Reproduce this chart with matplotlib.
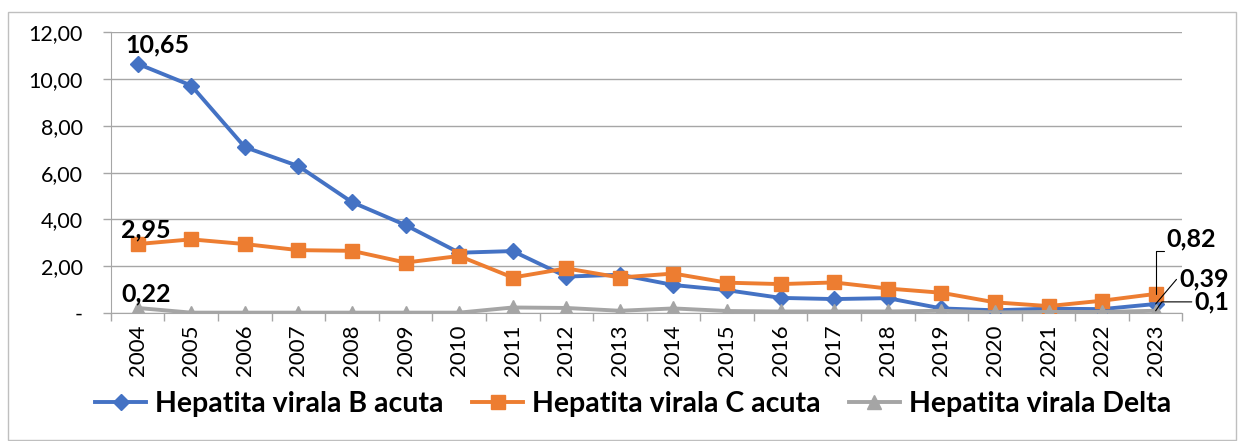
import matplotlib.pyplot as plt
from matplotlib.patches import Rectangle
from matplotlib.ticker import FuncFormatter

years = ['2004', '2005', '2006', '2007', '2008', '2009', '2010', '2011', '2012', '2013',
         '2014', '2015', '2016', '2017', '2018', '2019', '2020', '2021', '2022', '2023']
hep_b = [10.65, 9.72, 7.09, 6.28, 4.74, 3.76, 2.58, 2.65, 1.56, 1.64,
         1.20, 0.98, 0.65, 0.60, 0.64, 0.20, 0.12, 0.19, 0.17, 0.39]
hep_c = [2.95, 3.15, 2.95, 2.69, 2.66, 2.16, 2.44, 1.52, 1.91, 1.52,
         1.69, 1.30, 1.24, 1.31, 1.05, 0.87, 0.46, 0.30, 0.53, 0.82]
hep_d = [0.22, 0.02, 0.02, 0.02, 0.02, 0.02, 0.02, 0.24, 0.22, 0.10,
         0.20, 0.09, 0.07, 0.07, 0.07, 0.10, 0.03, 0.05, 0.05, 0.10]
series_names = ['Hepatita virala B acuta', 'Hepatita virala C acuta', 'Hepatita virala Delta']

plt.rcParams['font.family'] = ['Lato', 'DejaVu Sans']

fig = plt.figure(figsize=(12.46, 4.41), dpi=100)
ax = fig.add_axes([0.089, 0.290, 0.860, 0.637])

# outer chart border
fig.patches.append(Rectangle((8 / 1246, 0.002), 1228 / 1246, 1 - 12 / 441 - 0.002,
                             transform=fig.transFigure, fill=False,
                             edgecolor='#bfbfbf', lw=1))

x = list(range(len(years)))
ax.plot(x, hep_b, color='#4472C4', lw=2.8, marker='D', markersize=8, label=series_names[0], zorder=3)
ax.plot(x, hep_c, color='#ED7D31', lw=2.8, marker='s', markersize=10, label=series_names[1], zorder=3)
ax.plot(x, hep_d, color='#A5A5A5', lw=2.8, marker='^', markersize=10, label=series_names[2], zorder=3)

ax.set_xlim(-0.5, len(years) - 0.5)
ax.set_ylim(0, 12)
ax.set_yticks([0, 2, 4, 6, 8, 10, 12])
ax.yaxis.set_major_formatter(FuncFormatter(lambda v, p: '-' if v == 0 else f'{v:.2f}'.replace('.', ',')))
ax.grid(axis='y', color='#a6a6a6', lw=1)
ax.set_axisbelow(True)

ax.set_xticks(x)
ax.set_xticklabels(years, rotation=90, fontsize=16)
ax.set_xticks([i - 0.5 for i in range(len(years) + 1)], minor=True)
ax.tick_params(axis='x', which='major', length=0, pad=8)
ax.tick_params(axis='x', which='minor', length=6, color='#a6a6a6', width=1)
ax.tick_params(axis='y', length=6, color='#a6a6a6', width=1, labelsize=15.5, pad=14)

for s in ['top', 'right']:
    ax.spines[s].set_visible(False)
ax.spines['left'].set_color('#a6a6a6')
ax.spines['bottom'].set_color('#a6a6a6')

lab = dict(fontsize=18, fontweight='bold', color='black')
ax.annotate('10,65', (0, hep_b[0]), xytext=(-9, 8), textcoords='offset points', **lab)
ax.annotate('2,95', (0, hep_c[0]), xytext=(-12, 5), textcoords='offset points', **lab)
ax.annotate('0,22', (0, hep_d[0]), xytext=(-12, 5), textcoords='offset points', **lab)

line = dict(arrowstyle='-', color='black', lw=0.8, shrinkA=0, shrinkB=0)
ax.annotate('0,82', (19, hep_c[-1]), xytext=(8, 34), textcoords='offset points', **lab,
            arrowprops=dict(line, connectionstyle='angle,angleA=0,angleB=90,rad=0', relpos=(0, 0)))
ax.annotate('0,39', (19, hep_b[-1]), xytext=(17, 13), textcoords='offset points', **lab,
            arrowprops=dict(line, relpos=(0, 0.6)))
ax.annotate('0,1', (19, hep_d[-1]), xytext=(28, 1), textcoords='offset points', **lab,
            arrowprops=dict(line, connectionstyle='angle,angleA=0,angleB=55,rad=0', relpos=(0, 0.5)))

fig.legend(loc='center', bbox_to_anchor=(0.508, 0.083), ncol=3, frameon=False,
           prop={'size': 20.5, 'weight': 'bold'}, handlelength=1.8, columnspacing=1.0,
           handletextpad=0.3)

fig.savefig('out.png', dpi=100)
